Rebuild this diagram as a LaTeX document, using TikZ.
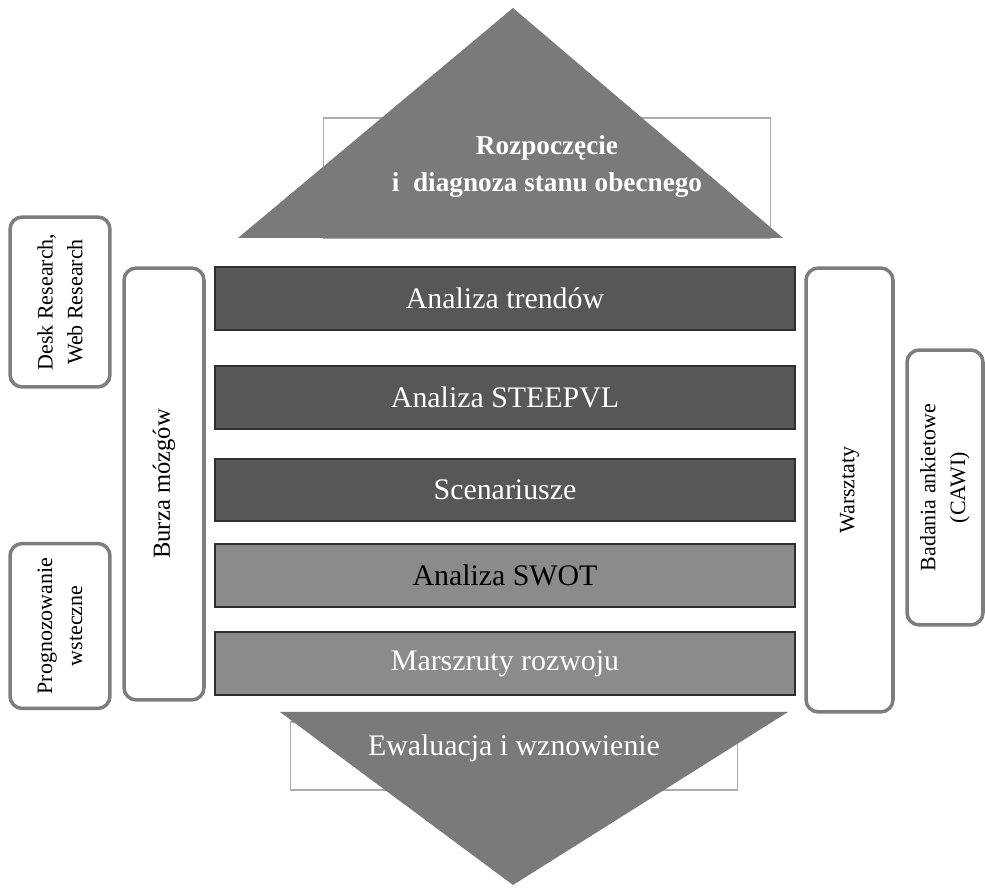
\documentclass[tikz,border=0pt]{standalone}
\usepackage{fontspec}
\setmainfont{Liberation Serif}
\usetikzlibrary{positioning}
\definecolor{bardark}{HTML}{575757}
\definecolor{barlight}{HTML}{8B8B8B}
\definecolor{barline}{HTML}{2F2F2F}
\definecolor{sidegray}{HTML}{7E7E7E}
\definecolor{trigray}{HTML}{7A7A7A}
\definecolor{framegray}{HTML}{ABABAB}
\tikzset{
  phase/.style      = {rectangle, draw=barline, line width=1pt,
                       minimum width=11.6cm, minimum height=1.25cm,
                       font=\fontsize{17}{20}\selectfont, text=white},
  phasedark/.style  = {phase, fill=bardark},
  phaselight/.style = {phase, fill=barlight},
  method/.style     = {rectangle, rounded corners=7pt, draw=sidegray, line width=2pt,
                       fill=white, rotate=90, align=center,
                       font=\fontsize{12.5}{17}\selectfont},
  pframe/.style     = {rectangle, draw=framegray, line width=0.6pt, inner sep=0pt},
  pointer/.style    = {fill=trigray},
  ptext/.style      = {text=white, align=center},
}

\begin{document}
\begin{tikzpicture}[x=0.02cm, y=-0.02cm]
\useasboundingbox (0,0) rectangle (985,888);

% start: frame, arrow, text
\node[pframe, minimum width=8.96cm, minimum height=2.4cm] (startbox) at (547,178) {};
\coordinate (starttip) at (513,8);
\fill[pointer] (238,238) -- (783,238) -- (starttip) -- cycle;
\node[ptext, font=\bfseries\fontsize{15.5}{21}\selectfont] (starttext) at (547,167)
  {Rozpoczęcie\\i~~diagnoza stanu obecnego};

% phases
\node[phasedark]  (trend) at (505,298.5) {Analiza trendów};
\node[phasedark]  (steep) at (505,397.5) {Analiza STEEPVL};
\node[phasedark]  (scen)  at (505,490)   {Scenariusze};
\node[phaselight, text=black] (swot) at (505,575.5) {Analiza SWOT};
\node[phaselight] (road)  at (505,663.5) {Marszruty rozwoju};

% end: frame, arrow, text
\node[pframe, minimum width=8.96cm, minimum height=1.36cm] (endbox) at (514,756) {};
\coordinate (endtip) at (513,885);
\fill[pointer] (280,712) -- (788,712) -- (endtip) -- cycle;
\node[ptext, font=\fontsize{17}{20}\selectfont] (endtext) at (514,748) {Ewaluacja i wznowienie};

% methods
\node[method, minimum width=3.4cm, minimum height=2cm] (desk) at (60,302)
  {Desk Research,\\Web Research};
\node[method, minimum width=3.3cm, minimum height=2cm] (back) at (60,626)
  {Prognozowanie\\wsteczne};
\node[method, minimum width=8.64cm, minimum height=1.6cm, font=\fontsize{14}{16}\selectfont]
  (brain) at (164,484) {Burza mózgów};
\node[method, minimum width=8.88cm, minimum height=1.74cm] (work) at (849.5,490) {Warsztaty};
\node[method, minimum width=5.5cm, minimum height=1.52cm] (cawi) at (945,487.5)
  {Badania ankietowe\\(CAWI)};
\end{tikzpicture}
\end{document}
